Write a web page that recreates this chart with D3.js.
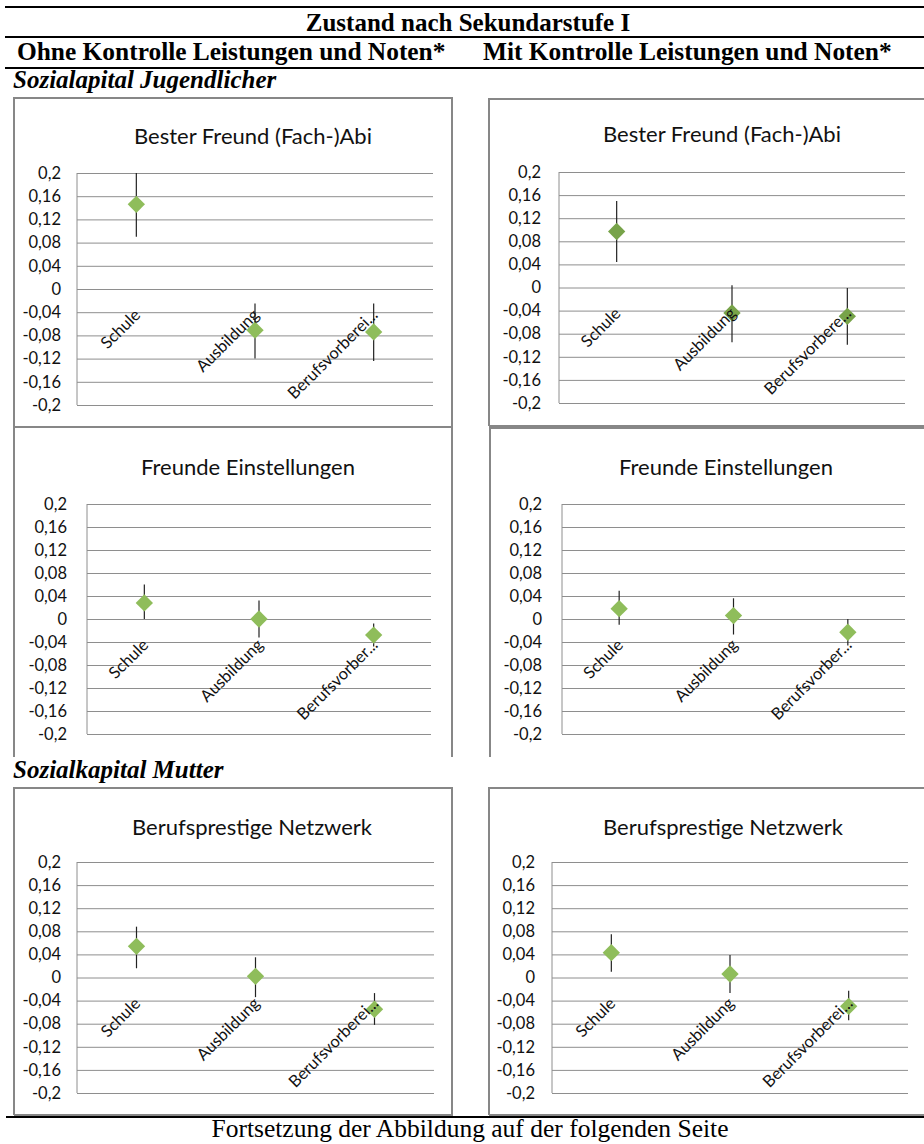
<!DOCTYPE html>
<html>
<head>
<meta charset="utf-8">
<script src="https://cdn.jsdelivr.net/npm/d3@7/dist/d3.min.js"></script>
<style>
  html, body { margin: 0; padding: 0; background: #fff; }
  svg { display: block; }
</style>
</head>
<body>
<svg id="chart" width="924" height="1144"></svg>
<script>
// ---------------- DATA ----------------
const categories = ["Schule", "Ausbildung", "Berufsvorbereitung"];

const yTickValues = [0.2, 0.16, 0.12, 0.08, 0.04, 0, -0.04, -0.08, -0.12, -0.16, -0.2];
const yTickLabels = ["0,2", "0,16", "0,12", "0,08", "0,04", "0", "-0,04", "-0,08", "-0,12", "-0,16", "-0,2"];

const headerTitle = "Zustand nach Sekundarstufe I";
const columnTitles = ["Ohne Kontrolle Leistungen und Noten*", "Mit Kontrolle Leistungen und Noten*"];
const sectionTitles = ["Sozialapital Jugendlicher", "Sozialkapital Mutter"];
const footerText = "Fortsetzung der Abbildung auf der folgenden Seite";

const chartTitles = ["Bester Freund (Fach-)Abi", "Freunde Einstellungen", "Berufsprestige Netzwerk"];

// category labels as truncated in each chart
const labelsBesterOhne   = ["Schule", "Ausbildung", "Berufsvorberei..."];
const labelsBesterMit    = ["Schule", "Ausbildung", "Berufsvorbere..."];
const labelsFreundeOhne  = ["Schule", "Ausbildung", "Berufsvorber..."];
const labelsFreundeMit   = ["Schule", "Ausbildung", "Berufsvorber..."];
const labelsBerufOhne    = ["Schule", "Ausbildung", "Berufsvorberei..."];
const labelsBerufMit     = ["Schule", "Ausbildung", "Berufsvorberei..."];

// point estimates and confidence bounds
const besterOhneValue  = [0.146, -0.071, -0.074];
const besterOhneLower  = [0.090, -0.120, -0.124];
const besterOhneUpper  = [0.202, -0.025, -0.025];

const besterMitValue   = [0.097, -0.044, -0.050];
const besterMitLower   = [0.044, -0.095, -0.099];
const besterMitUpper   = [0.150, 0.004, -0.001];

const freundeOhneValue = [0.028, 0.000, -0.028];
const freundeOhneLower = [0.000, -0.032, -0.048];
const freundeOhneUpper = [0.060, 0.032, -0.008];

const freundeMitValue  = [0.018, 0.006, -0.023];
const freundeMitLower  = [-0.010, -0.027, -0.046];
const freundeMitUpper  = [0.049, 0.036, 0.000];

const berufOhneValue   = [0.054, 0.002, -0.055];
const berufOhneLower   = [0.016, -0.034, -0.082];
const berufOhneUpper   = [0.088, 0.035, -0.027];

const berufMitValue    = [0.043, 0.006, -0.050];
const berufMitLower    = [0.010, -0.027, -0.074];
const berufMitUpper    = [0.075, 0.039, -0.023];

// ---------------- LAYOUT ----------------
const svg = d3.select("#chart");
const W = 924;
const serif = "'Liberation Serif', 'Times New Roman', serif";
const sans = "Lato, 'Open Sans', sans-serif";
const borderColor = "#878787";
const gridColor = "#8e8e8e";

// header
svg.append("line").attr("x1", 5).attr("x2", W).attr("y1", 7).attr("y2", 7)
  .attr("stroke", "#000").attr("stroke-width", 2.2);
svg.append("text").attr("x", 468).attr("y", 31).attr("text-anchor", "middle")
  .attr("font-family", serif).attr("font-weight", "bold").attr("font-size", 25)
  .text(headerTitle);
svg.append("line").attr("x1", 5).attr("x2", W).attr("y1", 37).attr("y2", 37)
  .attr("stroke", "#000").attr("stroke-width", 2.2);
svg.append("text").attr("x", 17).attr("y", 60)
  .attr("font-family", serif).attr("font-weight", "bold").attr("font-size", 25.4)
  .text(columnTitles[0]);
svg.append("text").attr("x", 483).attr("y", 60)
  .attr("font-family", serif).attr("font-weight", "bold").attr("font-size", 25.4)
  .text(columnTitles[1]);
svg.append("line").attr("x1", 5).attr("x2", W).attr("y1", 68).attr("y2", 68)
  .attr("stroke", "#000").attr("stroke-width", 2.2);
svg.append("text").attr("x", 13).attr("y", 88)
  .attr("font-family", serif).attr("font-weight", "bold").attr("font-style", "italic").attr("font-size", 25)
  .text(sectionTitles[0]);
svg.append("text").attr("x", 13).attr("y", 778)
  .attr("font-family", serif).attr("font-weight", "bold").attr("font-style", "italic").attr("font-size", 25)
  .text(sectionTitles[1]);

// footer
svg.append("line").attr("x1", 6).attr("x2", W).attr("y1", 1117).attr("y2", 1117)
  .attr("stroke", "#000").attr("stroke-width", 2.2);
svg.append("text").attr("x", 470).attr("y", 1137).attr("text-anchor", "middle")
  .attr("font-family", serif).attr("font-size", 25.5)
  .text(footerText);

// panels
const panels = [
  { title: chartTitles[0], labels: labelsBesterOhne, v: besterOhneValue, lo: besterOhneLower, hi: besterOhneUpper,
    box: [14, 98, 452, 427], bottomBorder: true, plot: [77, 173, 433, 405], titleX: 253, titleY: 144, pad: 16, color: "#8fbd5b" },
  { title: chartTitles[0], labels: labelsBesterMit, v: besterMitValue, lo: besterMitLower, hi: besterMitUpper,
    box: [489, 99, 940, 426], bottomBorder: true, plot: [559, 172, 905, 403], titleX: 722, titleY: 142, pad: 18, color: "#77a349" },
  { title: chartTitles[1], labels: labelsFreundeOhne, v: freundeOhneValue, lo: freundeOhneLower, hi: freundeOhneUpper,
    box: [14, 427, 452, 757], bottomBorder: false, plot: [87, 504, 431, 734], titleX: 248, titleY: 475, pad: 20, color: "#8fbd5b" },
  { title: chartTitles[1], labels: labelsFreundeMit, v: freundeMitValue, lo: freundeMitLower, hi: freundeMitUpper,
    box: [490, 428, 940, 757], bottomBorder: false, plot: [562, 504, 905, 734], titleX: 726, titleY: 475, pad: 20, color: "#8fbd5b" },
  { title: chartTitles[2], labels: labelsBerufOhne, v: berufOhneValue, lo: berufOhneLower, hi: berufOhneUpper,
    box: [14, 788, 452, 1115], bottomBorder: true, plot: [77, 862, 434, 1093], titleX: 252, titleY: 835, pad: 16, color: "#8fbd5b" },
  { title: chartTitles[2], labels: labelsBerufMit, v: berufMitValue, lo: berufMitLower, hi: berufMitUpper,
    box: [489, 788, 940, 1115], bottomBorder: true, plot: [552, 862, 908, 1093], titleX: 723, titleY: 835, pad: 17, color: "#8fbd5b" }
];

panels.forEach(p => {
  const g = svg.append("g");
  const [bx0, by0, bx1, by1] = p.box;
  // box border
  const bp = p.bottomBorder
    ? `M${bx0},${by1}V${by0}H${bx1}V${by1}H${bx0}`
    : `M${bx0},${by1}V${by0}H${bx1}V${by1}`;
  g.append("path").attr("d", bp).attr("fill", "none").attr("stroke", borderColor).attr("stroke-width", 2);

  const [px0, py0, px1, py1] = p.plot;
  const y = d3.scaleLinear().domain([-0.2, 0.2]).range([py1, py0]);
  const x = d3.scalePoint().domain(categories).range([px0, px1]).padding(0.5);

  // gridlines
  const grid = g.append("g").attr("transform", `translate(${px0},0)`)
    .call(d3.axisLeft(y).tickValues(yTickValues).tickSize(-(px1 - px0)).tickFormat(""));
  grid.select(".domain").remove();
  grid.selectAll(".tick line").attr("stroke", gridColor).attr("stroke-width", 1);

  // left axis line
  g.append("line").attr("x1", px0).attr("x2", px0).attr("y1", y(0.2)).attr("y2", y(-0.2))
    .attr("stroke", gridColor).attr("stroke-width", 1);

  // y tick labels
  const ax = g.append("g").attr("transform", `translate(${px0},0)`)
    .call(d3.axisLeft(y).tickValues(yTickValues).tickSize(0).tickPadding(p.pad)
      .tickFormat((d, i) => yTickLabels[i]));
  ax.select(".domain").remove();
  ax.selectAll("text").attr("font-family", sans).attr("font-size", 16.5).attr("fill", "#111");

  // title
  g.append("text").attr("x", p.titleX).attr("y", p.titleY).attr("text-anchor", "middle")
    .attr("font-family", sans).attr("font-size", 22).attr("fill", "#111").text(p.title);

  // error bars
  const clip = v => Math.max(-0.2, Math.min(0.2, v));
  categories.forEach((c, i) => {
    g.append("line").attr("x1", x(c)).attr("x2", x(c))
      .attr("y1", y(clip(p.hi[i]))).attr("y2", y(clip(p.lo[i])))
      .attr("stroke", "#222").attr("stroke-width", 1.2);
  });

  // diamonds (square rotated 45°)
  const sym = d3.symbol().type(d3.symbolSquare).size(150);
  categories.forEach((c, i) => {
    g.append("path").attr("d", sym())
      .attr("transform", `translate(${x(c)},${y(p.v[i])}) rotate(45)`)
      .attr("fill", p.color);
  });

  // category labels (rotated), drawn on top
  categories.forEach((c, i) => {
    const lx = x(c) + 5, ly = y(0) + 27;
    g.append("text").attr("x", lx).attr("y", ly).attr("text-anchor", "end")
      .attr("transform", `rotate(-45,${lx},${ly})`)
      .attr("font-family", sans).attr("font-size", 16.5).attr("fill", "#111")
      .text(p.labels[i]);
  });
});
</script>
</body>
</html>
